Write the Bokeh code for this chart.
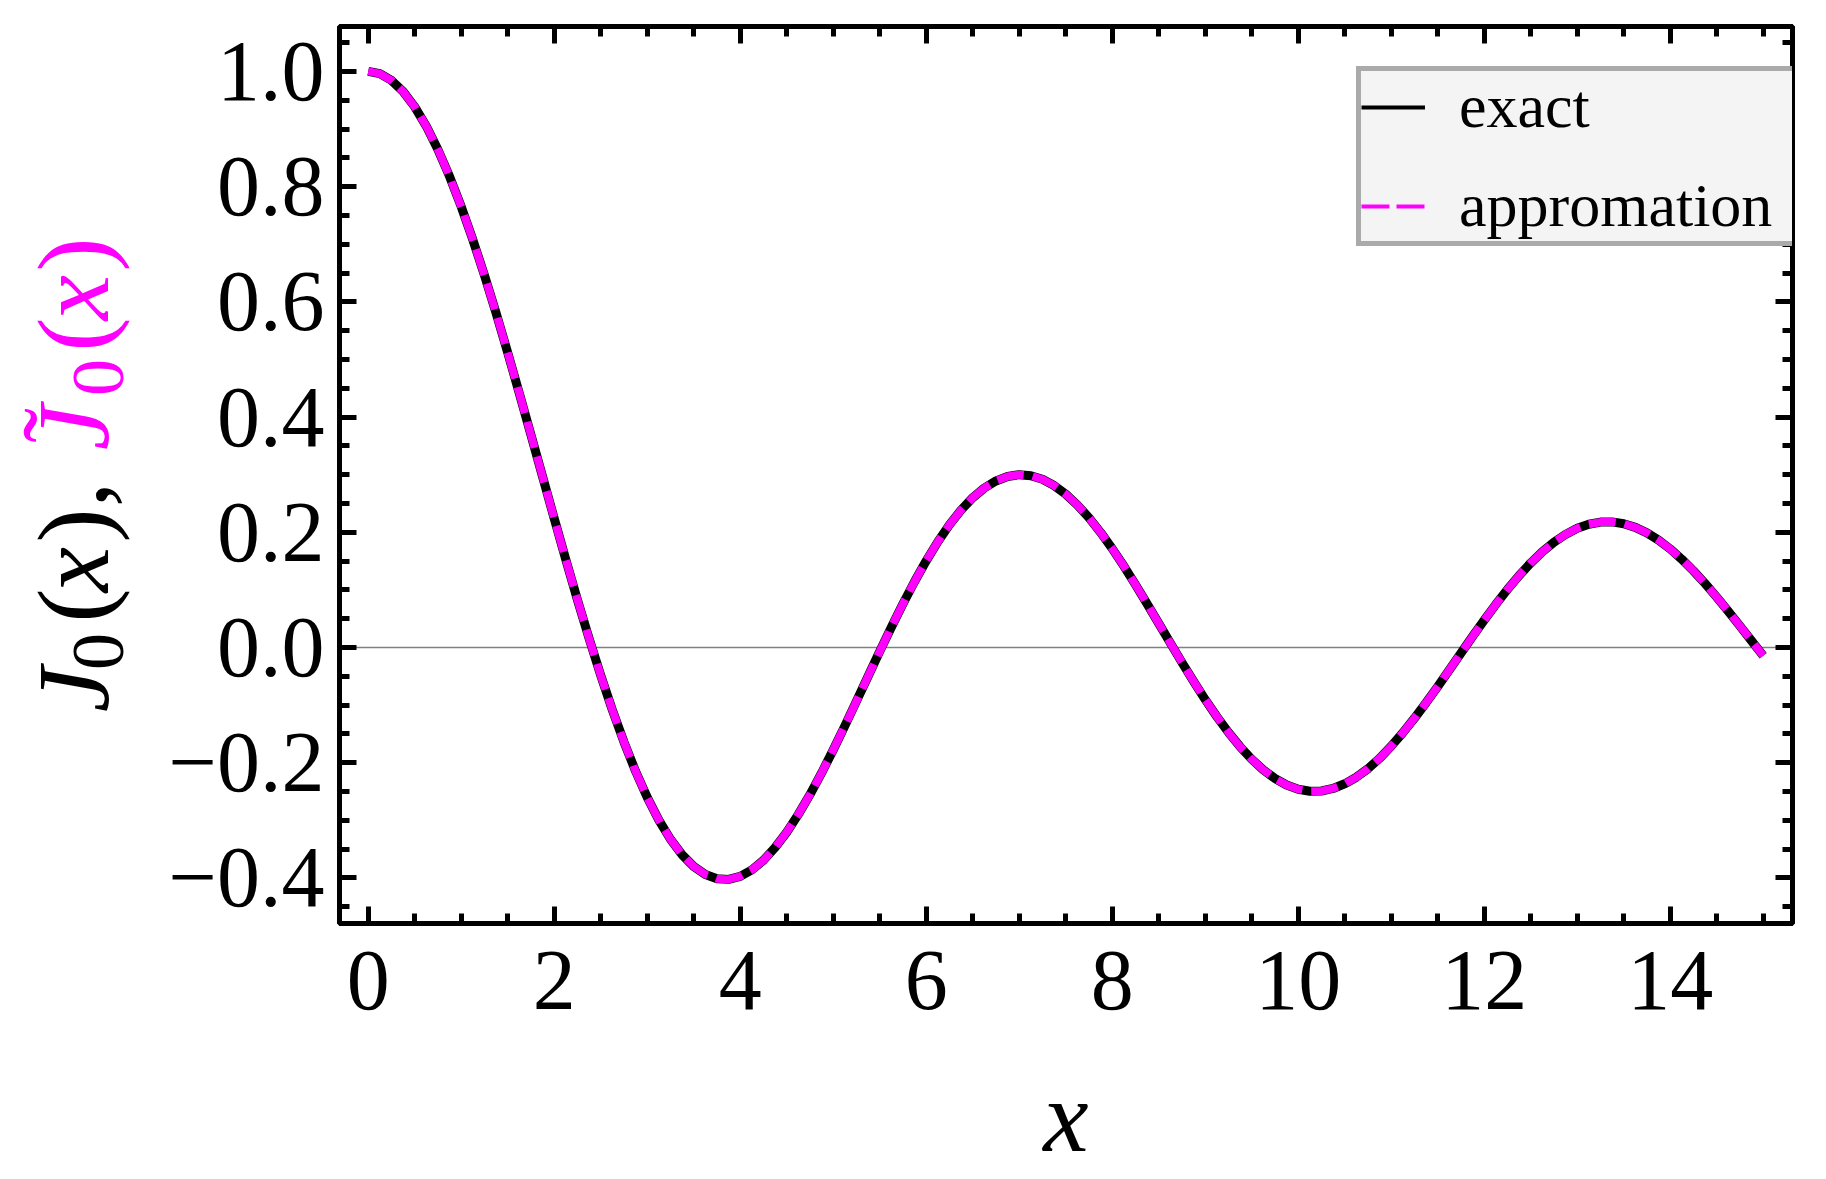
from bokeh.plotting import figure
from bokeh.layouts import row
from bokeh.models import Range1d, FixedTicker, LinearAxis, CustomJSTickFormatter, Span, Legend, LegendItem
from bokeh.core.properties import value
from bokeh.embed import file_html
from bokeh.resources import INLINE

# ---------------- data ----------------
x_vals = [0.0, 0.125, 0.25, 0.375, 0.5, 0.625, 0.75, 0.875, 1.0, 1.125, 1.25, 1.375, 1.5, 1.625,
          1.75, 1.875, 2.0, 2.125, 2.25, 2.375, 2.5, 2.625, 2.75, 2.875, 3.0, 3.125, 3.25, 3.375,
          3.5, 3.625, 3.75, 3.875, 4.0, 4.125, 4.25, 4.375, 4.5, 4.625, 4.75, 4.875, 5.0, 5.125,
          5.25, 5.375, 5.5, 5.625, 5.75, 5.875, 6.0, 6.125, 6.25, 6.375, 6.5, 6.625, 6.75, 6.875,
          7.0, 7.125, 7.25, 7.375, 7.5, 7.625, 7.75, 7.875, 8.0, 8.125, 8.25, 8.375, 8.5, 8.625,
          8.75, 8.875, 9.0, 9.125, 9.25, 9.375, 9.5, 9.625, 9.75, 9.875, 10.0, 10.125, 10.25,
          10.375, 10.5, 10.625, 10.75, 10.875, 11.0, 11.125, 11.25, 11.375, 11.5, 11.625, 11.75,
          11.875, 12.0, 12.125, 12.25, 12.375, 12.5, 12.625, 12.75, 12.875, 13.0, 13.125, 13.25,
          13.375, 13.5, 13.625, 13.75, 13.875, 14.0, 14.125, 14.25, 14.375, 14.5, 14.625, 14.75,
          14.875, 15.0]
exact_vals = [1.0000, 0.9961, 0.9844, 0.9651, 0.9385, 0.9047, 0.8642, 0.8175, 0.7652, 0.7078,
              0.6459, 0.5804, 0.5118, 0.4411, 0.3690, 0.2964, 0.2239, 0.1524, 0.0827, 0.0156,
              -0.0484, -0.1084, -0.1641, -0.2148, -0.2601, -0.2995, -0.3328, -0.3597, -0.3801,
              -0.3940, -0.4014, -0.4024, -0.3971, -0.3859, -0.3692, -0.3472, -0.3205, -0.2896,
              -0.2551, -0.2176, -0.1776, -0.1359, -0.0931, -0.0498, -0.0068, 0.0353, 0.0760,
              0.1146, 0.1506, 0.1836, 0.2131, 0.2387, 0.2601, 0.2769, 0.2892, 0.2970, 0.3001,
              0.2983, 0.2920, 0.2812, 0.2663, 0.2475, 0.2253, 0.1998, 0.1717, 0.1414, 0.1093,
              0.0759, 0.0419, 0.0078, -0.0259, -0.0588, -0.0903, -0.1199, -0.1473, -0.1721,
              -0.1939, -0.2124, -0.2273, -0.2385, -0.2459, -0.2494, -0.2490, -0.2446, -0.2365,
              -0.2251, -0.2104, -0.1922, -0.1712, -0.1479, -0.1226, -0.0958, -0.0677, -0.0388,
              -0.0097, 0.0193, 0.0477, 0.0750, 0.1008, 0.1249, 0.1469, 0.1662, 0.1827, 0.1964,
              0.2069, 0.2140, 0.2178, 0.2181, 0.2150, 0.2086, 0.1990, 0.1864, 0.1711, 0.1532,
              0.1331, 0.1111, 0.0875, 0.0628, 0.0374, 0.0116, -0.0142]
approx_vals = [1.0000, 0.9961, 0.9844, 0.9651, 0.9385, 0.9047, 0.8642, 0.8175, 0.7652, 0.7078,
               0.6459, 0.5804, 0.5118, 0.4411, 0.3690, 0.2964, 0.2239, 0.1524, 0.0827, 0.0156,
               -0.0484, -0.1084, -0.1641, -0.2148, -0.2601, -0.2995, -0.3328, -0.3597, -0.3801,
               -0.3940, -0.4014, -0.4024, -0.3971, -0.3859, -0.3692, -0.3472, -0.3205, -0.2896,
               -0.2551, -0.2176, -0.1776, -0.1359, -0.0931, -0.0498, -0.0068, 0.0353, 0.0760,
               0.1146, 0.1506, 0.1836, 0.2131, 0.2387, 0.2601, 0.2769, 0.2892, 0.2970, 0.3001,
               0.2983, 0.2920, 0.2812, 0.2663, 0.2475, 0.2253, 0.1998, 0.1717, 0.1414, 0.1093,
               0.0759, 0.0419, 0.0078, -0.0259, -0.0588, -0.0903, -0.1199, -0.1473, -0.1721,
               -0.1939, -0.2124, -0.2273, -0.2385, -0.2459, -0.2494, -0.2490, -0.2446, -0.2365,
               -0.2251, -0.2104, -0.1922, -0.1712, -0.1479, -0.1226, -0.0958, -0.0677, -0.0388,
               -0.0097, 0.0193, 0.0477, 0.0750, 0.1008, 0.1249, 0.1469, 0.1662, 0.1827, 0.1964,
               0.2069, 0.2140, 0.2178, 0.2181, 0.2150, 0.2086, 0.1990, 0.1864, 0.1711, 0.1532,
               0.1331, 0.1111, 0.0875, 0.0628, 0.0374, 0.0116, -0.0142]
series_names = ["exact", "appromation"]

x_ticks = [0, 2, 4, 6, 8, 10, 12, 14]
x_tick_labels = ["0", "2", "4", "6", "8", "10", "12", "14"]
x_minor_ticks = [0.5, 1, 1.5, 2.5, 3, 3.5, 4.5, 5, 5.5, 6.5, 7, 7.5, 8.5, 9, 9.5,
                 10.5, 11, 11.5, 12.5, 13, 13.5, 14.5, 15]
y_ticks = [-0.4, -0.2, 0.0, 0.2, 0.4, 0.6, 0.8, 1.0]
y_tick_labels = ["\u22120.4", "\u22120.2", "0.0", "0.2", "0.4", "0.6", "0.8", "1.0"]
y_minor_ticks = [-0.45, -0.35, -0.3, -0.25, -0.15, -0.1, -0.05, 0.05, 0.1, 0.15,
                 0.25, 0.3, 0.35, 0.45, 0.5, 0.55, 0.65, 0.7, 0.75, 0.85, 0.9, 0.95, 1.05]

# y-axis title pieces: text, baseline x, centre y (page px), size(px), style, colour
MAGENTA = "#ff00ff"
ytitle_pieces = [
    ("J", 107, 689, 102, "italic", "black"),
    ("0", 123, 651, 74, "normal", "black"),
    ("(", 107, 605, 102, "normal", "black"),
    ("x", 107, 569, 102, "italic", "black"),
    (")", 107, 525, 102, "normal", "black"),
    (",", 107, 494, 102, "normal", "black"),
    ("J", 107, 427, 102, "italic", MAGENTA),
    ("\u02dc", 93, 425, 104, "normal", MAGENTA),
    ("0", 123, 377, 74, "normal", MAGENTA),
    ("(", 107, 334, 102, "normal", MAGENTA),
    ("x", 107, 297, 102, "italic", MAGENTA),
    (")", 107, 254, 102, "normal", MAGENTA),
]

# ---------------- layout ----------------
H = 1176
LW = 150                                  # strip holding the y title
MW = 1826 - LW
FT, FB = 26, 923                          # frame top / bottom (page px)
FL, FR = 339 - LW, 1792 - LW              # main frame left / right (main canvas px)
X0, X1 = -0.309, 15.315
Y0, Y1 = -0.479, 1.078
FONT = "Liberation Serif"

# ---- left strip with the two-coloured y title (same top/bottom borders as main) ----
lab = figure(width=LW, height=H, output_backend="svg", toolbar_location=None,
             x_range=Range1d(0, LW), y_range=Range1d(-FB, -FT),
             min_border_left=0, min_border_right=0,
             min_border_top=FT, min_border_bottom=H - FB,
             x_axis_location=None, y_axis_location=None)
lab.xgrid.visible = False
lab.ygrid.visible = False
lab.outline_line_color = None
for txt, px, py, size, style, color in ytitle_pieces:
    mid_x = px - 0.3375 * size            # 'middle' line lies above the baseline
    lab.text(x=[mid_x], y=[-py], text=[txt], angle=90, angle_units="deg",
             text_font=value(FONT), text_font_size=value(f"{size}px"),
             text_font_style=value(style), text_color=color,
             text_align="center", text_baseline="middle")

# ---- main plot ----
p = figure(width=MW, height=H, output_backend="svg", toolbar_location=None,
           x_range=Range1d(X0, X1), y_range=Range1d(Y0, Y1),
           min_border_left=FL, min_border_right=MW - FR,
           min_border_top=FT, min_border_bottom=H - FB,
           x_axis_location=None, y_axis_location=None)
p.xgrid.visible = False
p.ygrid.visible = False
p.outline_line_color = "black"
p.outline_line_width = 5
p.background_fill_color = "white"
p.border_fill_color = "white"


def style_axis(ax, ticks, minor, labels, show):
    ax.ticker = FixedTicker(ticks=ticks, minor_ticks=minor)
    ax.axis_line_color = "black"
    ax.axis_line_width = 5
    ax.major_tick_in = 17
    ax.major_tick_out = 0
    ax.minor_tick_in = 10
    ax.minor_tick_out = 0
    ax.major_tick_line_width = 5
    ax.minor_tick_line_width = 5
    ax.major_tick_line_color = "black"
    ax.minor_tick_line_color = "black"
    if show:
        ax.major_label_overrides = dict(zip(ticks, labels))
        ax.major_label_text_font = FONT
        ax.major_label_text_font_size = "86px"
        ax.major_label_text_color = "black"
    else:
        ax.formatter = CustomJSTickFormatter(code="return '';")
        ax.major_label_text_font_size = "1px"


xb = LinearAxis()
style_axis(xb, x_ticks, x_minor_ticks, x_tick_labels, True)
xb.major_label_standoff = 28
xb.axis_label = "x"
xb.axis_label_text_font = FONT
xb.axis_label_text_font_style = "italic"
xb.axis_label_text_font_size = "102px"
xb.axis_label_text_color = "black"
xb.axis_label_standoff = 48
p.add_layout(xb, "below")

xt = LinearAxis()
style_axis(xt, x_ticks, x_minor_ticks, x_tick_labels, False)
p.add_layout(xt, "above")

yl = LinearAxis()
style_axis(yl, y_ticks, y_minor_ticks, y_tick_labels, True)
yl.major_label_standoff = 15
p.add_layout(yl, "left")

yr = LinearAxis()
style_axis(yr, y_ticks, y_minor_ticks, y_tick_labels, False)
p.add_layout(yr, "right")

# zero line
p.add_layout(Span(location=0, dimension="width", line_color="#808080",
                  line_width=1.5, level="underlay"))

# curves
p.line(x_vals, exact_vals, line_color="black", line_width=9, line_join="round")
p.line(x_vals, approx_vals, line_color=MAGENTA, line_width=8, line_dash="27 9",
       line_join="round")

# legend samples (single point -> nothing drawn in the frame)
r_ex = p.line(x_vals[:1], exact_vals[:1], line_color="black", line_width=4)
r_ap = p.line(x_vals[:1], approx_vals[:1], line_color=MAGENTA, line_width=4, line_dash="28 7")
legend = Legend(items=[LegendItem(label=series_names[0], renderers=[r_ex]),
                       LegendItem(label=series_names[1], renderers=[r_ap])],
                location=(1356 - 339, 923 - 246),
                label_text_font=FONT, label_text_font_size="62px",
                label_text_color="black",
                background_fill_color="#f4f4f4", background_fill_alpha=1.0,
                border_line_color="#aaaaaa", border_line_width=5, border_line_alpha=1.0,
                glyph_width=64, glyph_height=40, label_standoff=34, label_width=336,
                padding=0, spacing=28, margin=0)
p.add_layout(legend)

layout = row(lab, p, spacing=0)
open("out.html", "w", encoding="utf-8").write(file_html(layout, INLINE))
